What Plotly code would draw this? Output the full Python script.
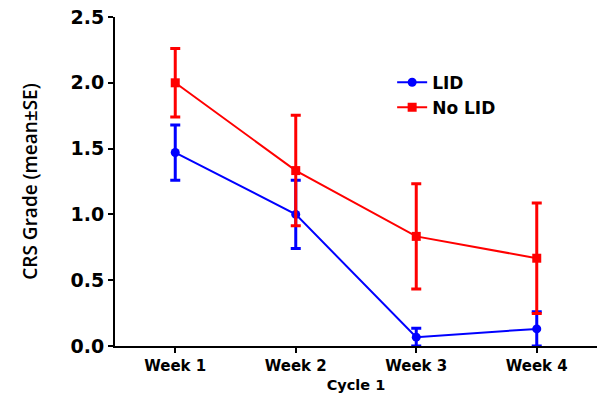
import plotly.graph_objects as go

weeks = ["Week 1", "Week 2", "Week 3", "Week 4"]
lid_mean = [1.47, 1.00, 0.067, 0.13]
lid_se = [0.21, 0.26, 0.067, 0.13]
nolid_mean = [2.00, 1.333, 0.833, 0.667]
nolid_se = [0.26, 0.42, 0.40, 0.42]

fig = go.Figure()
fig.add_trace(go.Scatter(
    x=weeks, y=lid_mean, name="LID", mode="lines+markers",
    line=dict(color="#0000ff", width=2),
    marker=dict(symbol="circle", size=9, color="#0000ff"),
    error_y=dict(type="data", array=lid_se, color="#0000ff", thickness=3, width=5),
))
fig.add_trace(go.Scatter(
    x=weeks, y=nolid_mean, name="No LID", mode="lines+markers",
    line=dict(color="#ff0000", width=2),
    marker=dict(symbol="square", size=9, color="#ff0000"),
    error_y=dict(type="data", array=nolid_se, color="#ff0000", thickness=3, width=5),
))

fig.update_layout(
    width=597, height=393,
    margin=dict(l=115, r=0, t=17, b=47),
    paper_bgcolor="white", plot_bgcolor="white",
    font=dict(family="DejaVu Sans", color="black"),
    legend=dict(x=0.575, y=0.855, xanchor="left", yanchor="top",
                font=dict(size=17, family="DejaVu Sans", color="black", weight="bold"),
                bgcolor="rgba(0,0,0,0)", tracegroupgap=0, itemwidth=30),
    showlegend=True,
)
fig.update_xaxes(
    range=[-0.5, 3.5], showgrid=False, zeroline=False,
    showline=True, linecolor="black", linewidth=2,
    ticks="outside", tickcolor="black", tickwidth=2, ticklen=5,
    tickfont=dict(size=15, family="DejaVu Sans", weight="bold"),
    title=dict(text="Cycle 1", font=dict(size=14.5, family="DejaVu Sans", weight="bold"), standoff=8),
)
fig.update_yaxes(
    range=[0, 2.5], dtick=0.5, tickformat=".1f", showgrid=False, zeroline=False,
    showline=True, linecolor="black", linewidth=2,
    ticks="outside", tickcolor="black", tickwidth=2, ticklen=5,
    tickfont=dict(size=19, family="DejaVu Sans", weight="bold"),
    title=dict(text="CRS Grade (mean±SE)", font=dict(size=19, family="Open Sans", weight=600), standoff=28),
)

fig.write_html("out.html")
